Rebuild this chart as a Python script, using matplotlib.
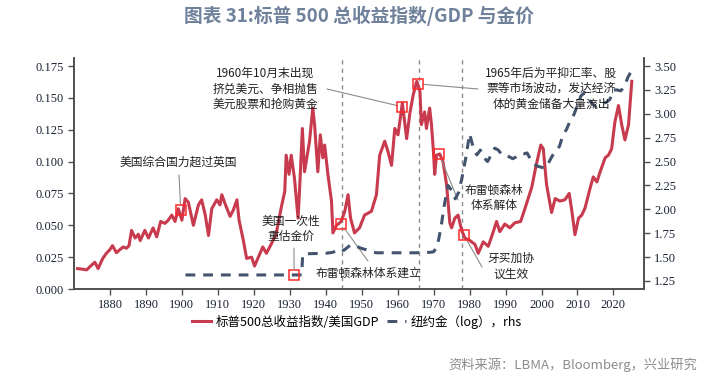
import matplotlib
matplotlib.use("Agg")
import matplotlib.pyplot as plt
import numpy as np

# S&P 500 total return index / US GDP (left axis)
spx_years = [1871.0, 1872.5, 1873.5, 1875.0, 1875.8, 1876.7, 1878.0, 1879.0, 1880.0, 1880.7,
             1881.8, 1882.8, 1883.7, 1884.6, 1885.3, 1886.0, 1887.0, 1887.9, 1888.4, 1889.7,
             1890.7, 1892.0, 1893.0, 1894.1, 1895.3, 1896.2, 1897.2, 1898.1, 1899.0, 1900.0,
             1900.9, 1901.8, 1903.2, 1904.6, 1905.5, 1906.5, 1907.4, 1908.3, 1909.7, 1910.6,
             1911.1, 1912.0, 1913.4, 1914.3, 1915.3, 1915.9, 1917.1, 1918.0, 1919.4, 1920.2,
             1921.6, 1922.5, 1923.5, 1924.8, 1926.2, 1927.6, 1928.6, 1929.0, 1929.8, 1930.4,
             1931.3, 1932.3, 1932.7, 1933.5, 1934.1, 1935.5, 1936.4, 1936.9, 1937.8, 1938.5,
             1939.2, 1939.7, 1940.6, 1941.6, 1942.0, 1943.0, 1944.3, 1945.3, 1946.2, 1946.9,
             1948.0, 1949.4, 1950.8, 1952.7, 1954.1, 1955.0, 1956.4, 1957.3, 1958.3, 1959.2,
             1960.1, 1961.3, 1962.5, 1963.4, 1964.3, 1965.3, 1966.2, 1966.6, 1967.5, 1968.0,
             1968.9, 1969.4, 1969.9, 1970.3, 1970.8, 1971.7, 1972.6, 1973.6, 1974.5, 1975.0,
             1975.9, 1976.8, 1977.8, 1978.7, 1980.1, 1981.5, 1982.4, 1983.8, 1985.2, 1986.6,
             1987.5, 1988.4, 1989.8, 1991.2, 1992.6, 1994.2, 1995.5, 1997.3, 1998.5, 1999.8,
             2000.5, 2001.4, 2002.8, 2003.8, 2005.1, 2006.5, 2007.7, 2008.5, 2009.3, 2010.3,
             2011.2, 2012.1, 2013.5, 2014.4, 2015.4, 2016.3, 2017.7, 2018.6, 2019.5, 2020.4,
             2021.4, 2022.3, 2023.2, 2024.2, 2025.1]
spx_ratio = [0.016, 0.0155, 0.015, 0.019, 0.021, 0.016, 0.024, 0.028, 0.031, 0.034,
             0.0285, 0.031, 0.033, 0.032, 0.034, 0.046, 0.040, 0.043, 0.038, 0.046,
             0.040, 0.048, 0.041, 0.053, 0.0515, 0.054, 0.058, 0.053, 0.063, 0.054,
             0.071, 0.068, 0.050, 0.066, 0.070, 0.058, 0.042, 0.063, 0.070, 0.066,
             0.074, 0.067, 0.057, 0.062, 0.070, 0.054, 0.038, 0.024, 0.025, 0.018,
             0.027, 0.033, 0.028, 0.035, 0.043, 0.0635, 0.0765, 0.105, 0.090, 0.105,
             0.087, 0.0556, 0.0765, 0.126, 0.092, 0.116, 0.142, 0.129, 0.092, 0.121,
             0.103, 0.113, 0.090, 0.069, 0.044, 0.050, 0.053, 0.061, 0.074, 0.0556,
             0.044, 0.048, 0.058, 0.061, 0.074, 0.105, 0.116, 0.108, 0.097, 0.126,
             0.121, 0.146, 0.118, 0.138, 0.152, 0.163, 0.155, 0.129, 0.139, 0.126,
             0.142, 0.129, 0.110, 0.090, 0.105, 0.106, 0.100, 0.082, 0.052, 0.048,
             0.0556, 0.058, 0.046, 0.040, 0.038, 0.035, 0.028, 0.037, 0.0335, 0.045,
             0.053, 0.045, 0.051, 0.048, 0.052, 0.053, 0.064, 0.080, 0.097, 0.113,
             0.110, 0.082, 0.060, 0.071, 0.069, 0.070, 0.075, 0.060, 0.0426, 0.0556,
             0.058, 0.0635, 0.079, 0.088, 0.084, 0.092, 0.103, 0.105, 0.110, 0.131,
             0.144, 0.129, 0.117, 0.129, 0.163]

# New York gold price, log10 (right axis)
gold_years = [1901.0, 1933.3, 1933.6, 1935, 1940, 1942, 1944, 1945, 1946, 1947, 1948,
              1950, 1952, 1954, 1960, 1965, 1969, 1970, 1971, 1972, 1973, 1974, 1975,
              1976, 1977, 1978, 1979, 1980, 1981, 1982, 1983, 1984, 1985, 1986, 1987,
              1988, 1989, 1990, 1991, 1992, 1993, 1994, 1995, 1996, 1997, 1998, 1999,
              2000, 2001, 2002, 2003, 2004, 2005, 2006, 2007, 2008, 2009, 2010, 2011,
              2012, 2013, 2014, 2015, 2016, 2017, 2018, 2019, 2020, 2021, 2022, 2023,
              2024, 2025]
gold_log = [1.313, 1.313, 1.526, 1.535, 1.54, 1.55, 1.59, 1.57, 1.60, 1.63, 1.62,
            1.59, 1.57, 1.545, 1.545, 1.545, 1.55, 1.556, 1.61, 1.80, 2.05, 2.25, 2.20,
            2.11, 2.18, 2.35, 2.55, 2.79, 2.65, 2.57, 2.62, 2.54, 2.50, 2.57, 2.64,
            2.62, 2.57, 2.57, 2.55, 2.53, 2.55, 2.58, 2.58, 2.59, 2.52, 2.47, 2.45,
            2.44, 2.43, 2.49, 2.56, 2.61, 2.66, 2.78, 2.84, 2.93, 2.99, 3.09, 3.19,
            3.22, 3.16, 3.11, 3.08, 3.10, 3.11, 3.12, 3.15, 3.25, 3.25, 3.24, 3.28,
            3.38, 3.45]

# highlighted events
event_years = [1899.7, 1944.3, 1961.3, 1965.6, 1971.5, 1978.5]
event_values = [0.062, 0.051, 0.143, 0.161, 0.106, 0.042]
gold_event_year = 1931.2
gold_event_value = 1.314
regime_years = [1944.5, 1966.0, 1978.0]

x_ticks = list(range(1880, 2021, 10))
left_ticks = [0.000, 0.025, 0.050, 0.075, 0.100, 0.125, 0.150, 0.175]
right_ticks = [1.25, 1.50, 1.75, 2.00, 2.25, 2.50, 2.75, 3.00, 3.25, 3.50]

W, H = 726, 380
CJK = ["Noto Sans CJK SC", "DejaVu Sans"]
red = "#c83a4e"
navy = "#44546e"
sq_col = "#ff2a2a"
lead_col = "#8c8c8c"


def fp(x, y):
  # figure pixel (from top-left) -> figure fraction
  return (x / W, 1 - y / H)


fig = plt.figure(figsize=(W / 100, H / 100), dpi=100)
ax = fig.add_axes([74 / W, 1 - 289 / H, (644 - 74) / W, (289 - 58) / H])
ax2 = ax.twinx()

for yr in regime_years:
  ax.axvline(yr, color="#8a8a8a", lw=1, linestyle=(0, (3, 3)), zorder=1)

l1, = ax.plot(spx_years, spx_ratio, color=red, lw=2.2, zorder=3,
              label="标普500总收益指数/美国GDP")
l2, = ax2.plot(gold_years, gold_log, color=navy, lw=2.2, dashes=(3.2, 2.6),
               label="纽约金（log），rhs")

ax.plot(event_years, event_values, "s", ms=7, mfc="none", mec=sq_col, mew=1.1, zorder=5)
ax2.plot([gold_event_year], [gold_event_value], "s", ms=7, mfc="none", mec=sq_col, mew=1.1)

ax.set_xlim(1870, 2028.5)
ax.set_ylim(0, 0.1813)
ax2.set_ylim(1.166, 3.584)
ax.set_xticks(x_ticks)
ax.set_yticks(left_ticks)
ax.set_yticklabels(["%.3f" % v for v in left_ticks])
ax2.set_yticks(right_ticks)
ax2.set_yticklabels(["%.2f" % v for v in right_ticks])

for a in (ax, ax2):
  a.spines["top"].set_visible(False)
  for s in ("left", "right", "bottom"):
    a.spines[s].set_color("#505050")
    a.spines[s].set_linewidth(1.2)
  a.tick_params(direction="out", length=4, width=1, color="#505050",
                labelsize=9, labelcolor="#1a2233")
  for lab in a.get_xticklabels() + a.get_yticklabels():
    lab.set_fontfamily("Liberation Serif")

# annotations: text and leader lines
ann_kw = dict(fontsize=8.5, family=CJK, color="#222222", ha="center", va="center",
              linespacing=1.25)
fig.text(*fp(178.5, 162.5), "美国综合国力超过英国", **ann_kw)
fig.text(*fp(265, 89), "1960年10月末出现\n挤兑美元、争相抛售\n美元股票和抢购黄金", **ann_kw)
fig.text(*fp(551, 88.5), "1965年后为平抑汇率、股\n票等市场波动，发达经济\n体的黄金储备大量流出", **ann_kw)
fig.text(*fp(290.5, 229), "美国一次性\n重估金价", **ann_kw)
fig.text(*fp(368.5, 273), "布雷顿森林体系建立", **ann_kw)
fig.text(*fp(494, 198), "布雷顿森林\n体系解体", **ann_kw)
fig.text(*fp(511.5, 266.5), "牙买加协\n议生效", **ann_kw)

lead_kw = dict(arrowstyle="-", color=lead_col, lw=0.8, shrinkA=0, shrinkB=3.6)
ax.annotate("", xy=(event_years[0], event_values[0]), xytext=fp(179, 175),
            textcoords="figure fraction", arrowprops=lead_kw)
ax.annotate("", xy=(event_years[1], event_values[1]), xytext=fp(368, 261),
            textcoords="figure fraction", arrowprops=lead_kw)
ax.annotate("", xy=(event_years[2], event_values[2]), xytext=fp(327, 89),
            textcoords="figure fraction", arrowprops=lead_kw)
ax.annotate("", xy=(event_years[3], event_values[3]), xytext=fp(478, 89),
            textcoords="figure fraction", arrowprops=lead_kw)
ax.annotate("", xy=(event_years[4], event_values[4]), xytext=fp(458, 200),
            textcoords="figure fraction", arrowprops=lead_kw)
ax.annotate("", xy=(event_years[5], event_values[5]), xytext=fp(482, 267),
            textcoords="figure fraction", arrowprops=lead_kw)
ax2.annotate("", xy=(gold_event_year, gold_event_value), xytext=fp(294, 248),
             textcoords="figure fraction", arrowprops=lead_kw)

fig.legend(handles=[l1, l2], loc="center", bbox_to_anchor=fp(357, 322), ncol=2,
           frameon=False, prop={"family": CJK, "size": 9}, handlelength=1.5,
           handletextpad=0.4, columnspacing=0.6)

fig.text(*fp(358.5, 16), "图表 31:标普 500 总收益指数/GDP 与金价", family=CJK,
         fontsize=13.5, fontweight="bold", color="#6f819b", ha="center", va="center")
fig.text(*fp(697, 365), "资料来源：LBMA，Bloomberg，兴业研究", family=CJK,
         fontsize=9.5, color="#8c8c8c", ha="right", va="center")

fig.savefig("out.png", dpi=100)
plt.close(fig)
